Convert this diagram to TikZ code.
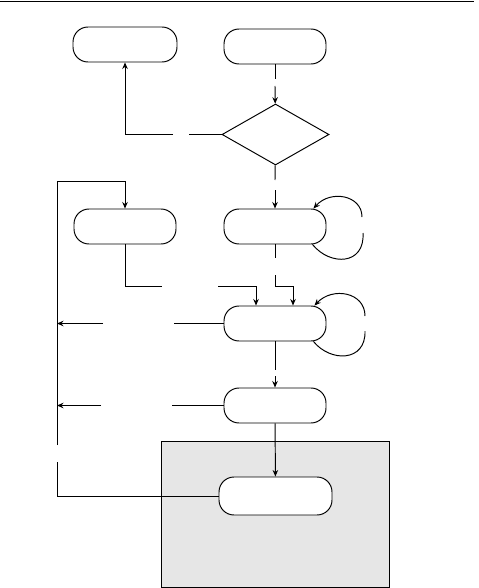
\documentclass[tikz,border=0pt]{standalone}
\usepackage{xcolor}
\usepackage{tikz}
\usetikzlibrary{calc,arrows.meta,positioning,shapes.geometric}
\definecolor{linec}{HTML}{000000}
\definecolor{boxbg}{HTML}{E6E6E6}
\tikzset{
  ln/.style={line width=0.55pt,linec},
  ar/.style={-{Stealth[length=1.3mm,width=1.1mm]},ln},
  term/.style={draw=linec,line width=0.55pt,rounded corners=0.3cm,fill=white,minimum width=2.04cm,minimum height=0.7cm,inner sep=0pt},
  dec/.style={diamond,draw=linec,line width=0.55pt,fill=white,minimum width=2.14cm,minimum height=1.22cm,inner sep=0pt}
}
\begin{document}
\begin{tikzpicture}[x=0.02cm,y=-0.02cm]
\useasboundingbox (0,0) rectangle (478,588);
\draw[line width=0.8pt] (0,1.5)--(474,1.5);
% shaded area
\filldraw[fill=boxbg,draw=linec,line width=0.55pt] (161,441) rectangle (389,587);
% nodes
\node[term,minimum width=2.08cm] (endL) at (125,44.5) {};
\node[term] (startR) at (275,46.5) {};
\node[dec] (chk) at (275.5,134.5) {};
\node[term] (prepL) at (125,226.5) {};
\node[term] (procR) at (275,226.5) {};
\node[term] (mrg) at (275,323.5) {};
\node[term] (chkH) at (275,405.5) {};
\node[term,minimum width=2.26cm,minimum height=0.76cm] (fin) at (275.5,496) {};
% gap ends and joints
\coordinate (g1a) at (275,79);
\coordinate (g1b) at (275,86);
\coordinate (g2a) at (189,134.5);
\coordinate (g2b) at (173,134.5);
\coordinate (g3a) at (275,180);
\coordinate (g3b) at (275,190);
\coordinate (g4a) at (57,462);
\coordinate (g4b) at (57,445);
\coordinate (topL) at (57,181);
\coordinate (g5a) at (162,286.5);
\coordinate (g5b) at (218,286.5);
\coordinate (g6a) at (275,258);
\coordinate (g6b) at (275,275);
\coordinate (g7a) at (174,323.5);
\coordinate (g7b) at (103,323.5);
\coordinate (jn1) at (57,323.5);
\coordinate (g8a) at (172,405.5);
\coordinate (g8b) at (101,405.5);
\coordinate (jn2) at (57,405.5);
\coordinate (g9a) at (275,370);
\coordinate (g9b) at (275,376);
\coordinate (lpA) at (363,233);
\coordinate (lpB) at (362,217);
\coordinate (lpC) at (365,331);
\coordinate (lpD) at (365,316);
% connectors
\draw[ln] (startR) -- (g1a);
\draw[ar] (g1b) -- (chk);
\draw[ln] (chk) -- (g2a);
\draw[ar] (g2b) -| (endL);
\draw[ln] (chk) -- (g3a);
\draw[ar] (g3b) -- (procR);
\draw[ln] (fin) -| (g4a);
\draw[ar] (g4b) -- (topL) -| (prepL);
\draw[ln] (prepL) |- (g5a);
\draw[ar] (g5b) -| ($(mrg.north)+(-19,0)$);
\draw[ln] (procR) -- (g6a);
\draw[ar] (g6b) -- ++(0,11.5) -| ($(mrg.north)+(18,0)$);
\draw[ln] (mrg) -- (g7a);
\draw[ar] (g7b) -- (jn1);
\draw[ln] (chkH) -- (g8a);
\draw[ar] (g8b) -- (jn2);
\draw[ln] (mrg) -- (g9a);
\draw[ar] (g9b) -- (chkH);
\draw[ar] (chkH) -- (fin);
% self loops
\draw[ln] ($(procR.south east)+(-14,0)$) .. controls +(18,22) and +(2,32) .. (lpA);
\draw[ar] (lpB) .. controls +(0,-22) and +(17,-19) .. ($(procR.north east)+(-13,0)$);
\draw[ln] ($(mrg.south east)+(-13,0)$) .. controls +(17,21) and +(1,31) .. (lpC);
\draw[ar] (lpD) .. controls +(0,-24) and +(18,-19) .. ($(mrg.north east)+(-12,0)$);
\end{tikzpicture}
\end{document}
